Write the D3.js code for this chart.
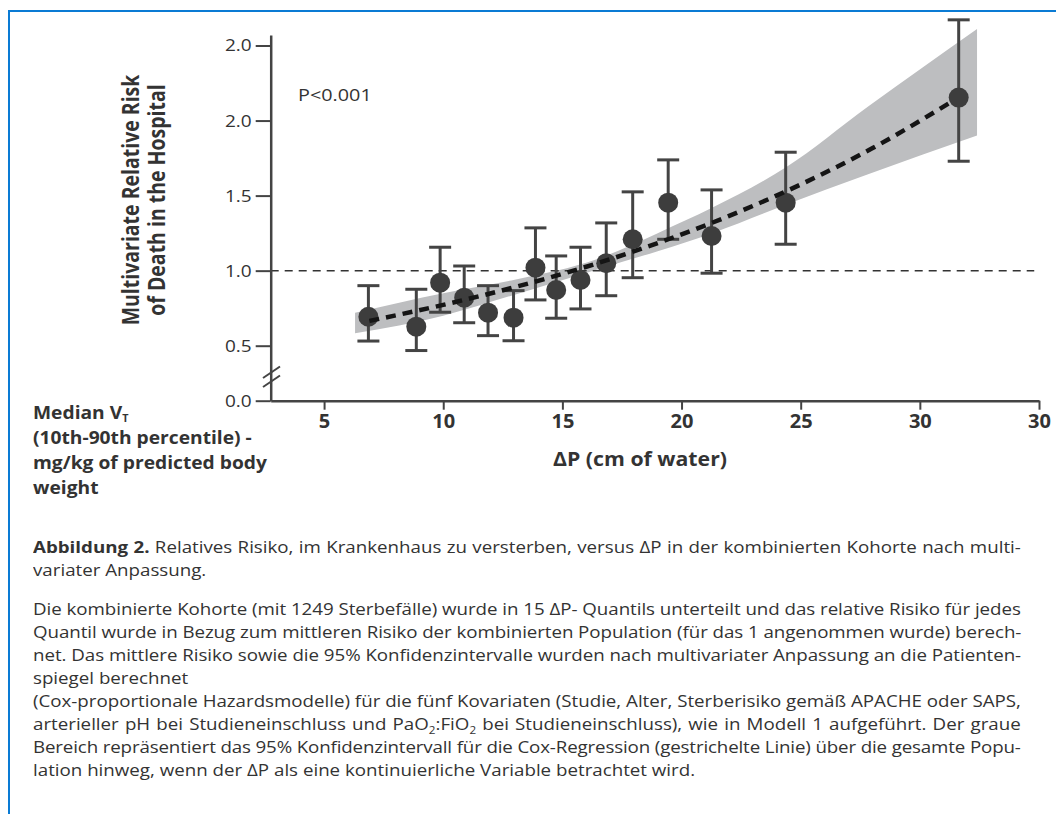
<!DOCTYPE html>
<html>
<head>
<meta charset="utf-8">
<script src="https://cdn.jsdelivr.net/npm/d3@7"></script>
<style>
  body { margin: 0; background: #fff; }
  #wrap { position: relative; width: 1056px; height: 814px; overflow: hidden; }
  #caption { position: absolute; left: 33px; top: 536px;
             font-family: "Open Sans", sans-serif; font-size: 16px; color: #333;
             transform-origin: 0 0; white-space: nowrap; }
  .ln { line-height: 23px; height: 23px; }
  .gap { height: 16px; }
  .sub { font-size: 10px; position: relative; top: 4px; }
</style>
</head>
<body>
<div id="wrap"></div>
<script>
// Quantile estimates of relative risk (points with 95% CI)
const deltaP   = [6.86, 8.87, 9.87, 10.88, 11.88, 12.95, 13.87, 14.74, 15.76, 16.84, 17.95, 19.44, 21.26, 24.37, 31.63];
const relRisk  = [0.693, 0.627, 0.920, 0.820, 0.720, 0.687, 1.020, 0.871, 0.938, 1.049, 1.209, 1.453, 1.231, 1.453, 2.153];
const ciLow    = [0.531, 0.456, 0.723, 0.653, 0.567, 0.533, 0.805, 0.683, 0.745, 0.833, 0.953, 1.209, 0.983, 1.176, 1.729];
const ciHigh   = [0.900, 0.876, 1.156, 1.031, 0.900, 0.867, 1.285, 1.098, 1.156, 1.318, 1.525, 1.738, 1.538, 1.789, 2.671];

// Cox regression fit (dashed) and its 95% confidence band
const fitDeltaP  = [6.9, 10, 13, 16, 19, 22, 25, 28, 31.2];
const fitRR      = [0.665, 0.772, 0.890, 1.026, 1.184, 1.365, 1.574, 1.815, 2.113];
const bandDeltaP = [6.3, 10, 13, 16.5, 19, 21.3, 24.4, 27.8, 32.4];
const bandLow    = [0.583, 0.700, 0.840, 1.010, 1.130, 1.250, 1.440, 1.640, 1.900];
const bandHigh   = [0.720, 0.850, 0.940, 1.080, 1.250, 1.420, 1.690, 2.090, 2.610];

// Axis ticks and their printed labels
const xTickValues = [5, 10, 15, 20, 25, 30, 35];
const xTickLabels = ["5", "10", "15", "20", "25", "30", "30"];
const yTickValues = [0, 0.5, 1, 1.5, 2, 2.5];
const yTickLabels = ["0.0", "0.5", "1.0", "1.5", "2.0", "2.0"];

const FONT = "'Open Sans', sans-serif";
const INK = "#333";
const AXIS = "#444";

const svg = d3.select("#wrap").append("svg")
  .attr("width", 1056).attr("height", 814)
  .style("position", "absolute").style("left", 0).style("top", 0);

// page frame
svg.append("path").attr("d", "M9,814 V11 H1056")
  .attr("fill", "none").attr("stroke", "#0a7bd4").attr("stroke-width", 2);

const x = d3.scaleLinear().domain([2.76, 35]).range([270.7, 1039]);
// broken axis: 0 sits below the break, 0.5..2.57 is linear
const y = d3.scaleLinear().domain([0, 0.5, 2.57]).range([400.7, 345.7, 35]);

// horizontally widened text, anchored at (px, py)
function wideText(sel, px, py, sx, txt) {
  return sel.append("text")
    .attr("transform", `translate(${px},${py}) scale(${sx},1)`)
    .attr("fill", INK).style("font-family", FONT).text(txt);
}

// confidence band
const band = d3.area()
  .x((d, i) => x(bandDeltaP[i]))
  .y0((d, i) => y(bandLow[i]))
  .y1((d, i) => y(bandHigh[i]))
  .curve(d3.curveMonotoneX);
svg.append("path").datum(bandDeltaP).attr("d", band).attr("fill", "#bdbec0");

// reference line at RR = 1
svg.append("line")
  .attr("x1", x(2.76)).attr("x2", x(34.8))
  .attr("y1", y(1)).attr("y2", y(1))
  .attr("stroke", "#333").attr("stroke-width", 1.5).attr("stroke-dasharray", "8,6");

// y axis
const Y_SX = 1.12;
const yAxis = d3.axisLeft(y).tickValues(yTickValues)
  .tickFormat((d, i) => yTickLabels[i]).tickSize(15).tickSizeOuter(0).tickPadding(4);
const gy = svg.append("g").attr("transform", "translate(270.7,0)").call(yAxis);
gy.select(".domain").attr("stroke", AXIS).attr("stroke-width", 2.5);
gy.selectAll(".tick line").attr("stroke", AXIS).attr("stroke-width", 2);
gy.selectAll(".tick text").attr("fill", INK).style("font-family", FONT).style("font-size", "17px")
  .attr("x", -19 / Y_SX).attr("transform", `scale(${Y_SX},1)`);

// x axis
const xAxis = d3.axisBottom(x).tickValues(xTickValues)
  .tickFormat((d, i) => xTickLabels[i]).tickSize(9).tickSizeOuter(0).tickPadding(4);
const gx = svg.append("g").attr("transform", "translate(0,400.7)").call(xAxis);
gx.select(".domain").attr("stroke", AXIS).attr("stroke-width", 2.5);
gx.selectAll(".tick line").attr("stroke", AXIS).attr("stroke-width", 2);
gx.selectAll(".tick text").attr("fill", INK).style("font-family", FONT)
  .style("font-size", "20px").style("font-weight", "bold");

// axis break marks
[0, 9].forEach(off => {
  svg.append("line")
    .attr("x1", 263).attr("y1", 378 + off).attr("x2", 280).attr("y2", 366.5 + off)
    .attr("stroke", AXIS).attr("stroke-width", 2);
});

// error bars
const eb = svg.append("g").attr("stroke", AXIS).attr("stroke-width", 3);
deltaP.forEach((d, i) => {
  const cx = x(d);
  eb.append("line").attr("x1", cx).attr("x2", cx).attr("y1", y(ciLow[i])).attr("y2", y(ciHigh[i]));
  eb.append("line").attr("x1", cx - 11).attr("x2", cx + 11).attr("y1", y(ciLow[i])).attr("y2", y(ciLow[i]));
  eb.append("line").attr("x1", cx - 11).attr("x2", cx + 11).attr("y1", y(ciHigh[i])).attr("y2", y(ciHigh[i]));
});

// quantile points
svg.append("g").selectAll("circle").data(deltaP).join("circle")
  .attr("cx", d => x(d)).attr("cy", (d, i) => y(relRisk[i]))
  .attr("r", 10).attr("fill", "#3d3d3d");

// regression fit
const fit = d3.line().x((d, i) => x(fitDeltaP[i])).y((d, i) => y(fitRR[i])).curve(d3.curveMonotoneX);
svg.append("path").datum(fitDeltaP).attr("d", fit)
  .attr("fill", "none").attr("stroke", "#151515").attr("stroke-width", 4.5)
  .attr("stroke-dasharray", "10,7");

// annotation
wideText(svg, 298, 101, 1.2, "P<0.001").style("font-size", "16.5px");

// y axis title (rotated, glyphs widened across the line)
const yt = svg.append("text").attr("transform", "translate(0,200) scale(1.15,1) rotate(-90)")
  .attr("text-anchor", "middle").attr("fill", INK)
  .style("font-family", FONT).style("font-size", "19.5px").style("font-weight", "bold");
yt.append("tspan").attr("x", 0).attr("y", 139.5 / 1.15).text("Multivariate Relative Risk");
yt.append("tspan").attr("x", 0).attr("y", 165 / 1.15).text("of Death in the Hospital");

// x axis title
wideText(svg, 640, 466, 1.12, "ΔP (cm of water)")
  .attr("text-anchor", "middle").style("font-size", "19px").style("font-weight", "bold");

// left row label
const lab = svg.append("text").attr("fill", INK).attr("transform", "translate(33,0) scale(1.08,1)")
  .style("font-family", FONT).style("font-size", "17.8px").style("font-weight", "bold");
const l1 = lab.append("tspan").attr("x", 0).attr("y", 419.5);
l1.append("tspan").text("Median V");
l1.append("tspan").attr("dy", 3).style("font-size", "10px").text("T");
lab.append("tspan").attr("x", 0).attr("y", 444).text("(10th-90th percentile) -");
lab.append("tspan").attr("x", 0).attr("y", 469).text("mg/kg of predicted body");
lab.append("tspan").attr("x", 0).attr("y", 494).text("weight");

// caption: widened glyphs, each full line justified to the column width
const CAP_SX = 1.17, CAP_W = 988;
const innerW = CAP_W / CAP_SX;
const cap = d3.select("#wrap").append("div").attr("id", "caption")
  .style("width", innerW + "px").style("transform", `scaleX(${CAP_SX})`);
const captionLines = [
  {html: "<b>Abbildung 2.</b> Relatives Risiko, im Krankenhaus zu versterben, versus ΔP in der kombinierten Kohorte nach multi-"},
  {html: "variater Anpassung.", last: true},
  {gap: true},
  {html: "Die kombinierte Kohorte (mit 1249 Sterbefälle) wurde in 15 ΔP- Quantils unterteilt und das relative Risiko für jedes"},
  {html: "Quantil wurde in Bezug zum mittleren Risiko der kombinierten Population (für das 1 angenommen wurde) berech-"},
  {html: "net. Das mittlere Risiko sowie die 95% Konfidenzintervalle wurden nach multivariater Anpassung an die Patienten-"},
  {html: "spiegel berechnet", last: true},
  {html: "(Cox-proportionale Hazardsmodelle) für die fünf Kovariaten (Studie, Alter, Sterberisiko gemäß APACHE oder SAPS,"},
  {html: "arterieller pH bei Studieneinschluss und PaO<span class='sub'>2</span>:FiO<span class='sub'>2</span> bei Studieneinschluss), wie in Modell 1 aufgeführt. Der graue"},
  {html: "Bereich repräsentiert das 95% Konfidenzintervall für die Cox-Regression (gestrichelte Linie) über die gesamte Popu-"},
  {html: "lation hinweg, wenn der ΔP als eine kontinuierliche Variable betrachtet wird.", last: true}
];
captionLines.forEach(l => {
  if (l.gap) { cap.append("div").attr("class", "gap"); return; }
  const row = cap.append("div").attr("class", "ln");
  const span = row.append("span").html(l.html);
  if (!l.last) {
    const natural = span.node().offsetWidth;
    const txt = span.node().textContent;
    const spaces = (txt.match(/ /g) || []).length;
    if (natural > innerW) {
      // too long: tighten letters slightly, keep word gaps
      row.style("letter-spacing", ((innerW - natural) / txt.length) + "px");
    } else {
      row.style("word-spacing", ((innerW - natural) / spaces) + "px");
    }
  }
});
</script>
</body>
</html>
